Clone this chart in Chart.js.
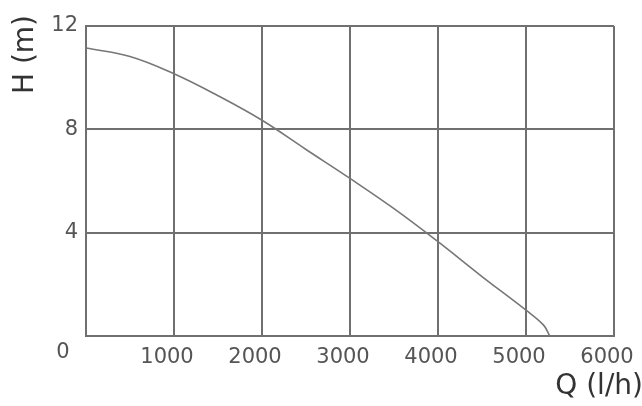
<!DOCTYPE html>
<html>
<head>
<meta charset="utf-8">
<script src="https://cdn.jsdelivr.net/npm/chart.js@4"></script>
<style>
  html, body { margin: 0; padding: 0; background: #fff; }
  #wrap { width: 642px; height: 406px; }
</style>
</head>
<body>
<div id="wrap"><canvas id="pump-curve" width="642" height="406"></canvas></div>
<script>
// flow (l/h) vs head (m)
const flowQ = [0, 500, 1000, 1500, 2000, 2500, 3000, 3500, 4000, 4500, 5000, 5200, 5270]
const headH = [11.15, 10.82, 10.15, 9.3, 8.35, 7.22, 6.1, 4.93, 3.65, 2.3, 1.0, 0.42, 0]
const xTicks = [0, 1000, 2000, 3000, 4000, 5000, 6000]
const yTicks = [0, 4, 8, 12]
const xTitle = 'Q (l/h)'
const yTitle = 'H (m)'

const gridColor = '#707070'
const textColor = '#555'
const fontFamily = "'DejaVu Sans', sans-serif"

// origin "0" and both axis titles sit outside the normal tick slots
const cornerText = {
  id: 'cornerText',
  afterDraw(chart) {
    const { ctx, chartArea } = chart
    ctx.save()
    ctx.fillStyle = textColor
    ctx.font = '21px ' + fontFamily
    ctx.textAlign = 'center'
    ctx.textBaseline = 'middle'
    ctx.fillText('0', chartArea.left - 23, chartArea.bottom + 17)

    ctx.fillStyle = '#333'
    ctx.font = '28px ' + fontFamily
    ctx.textAlign = 'right'
    ctx.textBaseline = 'alphabetic'
    ctx.fillText(xTitle, 643, chartArea.bottom + 58)

    ctx.translate(33, 15)
    ctx.rotate(-Math.PI / 2)
    ctx.textAlign = 'right'
    ctx.textBaseline = 'alphabetic'
    ctx.fillText(yTitle, 0, 0)
    ctx.restore()
  }
}

const points = flowQ.map((q, i) => ({ x: q, y: headH[i] }))

new Chart(document.getElementById('pump-curve'), {
  type: 'line',
  data: { datasets: [{ data: points, borderColor: '#777', borderWidth: 1.6, pointRadius: 0, fill: false, tension: 0.4 }] },
  options: {
    responsive: false, animation: false,
    layout: { padding: { top: 26, right: 28, left: 0, bottom: 0 } },
    plugins: { legend: { display: false }, tooltip: { enabled: false } },
    scales: {
      x: {
        type: 'linear', min: 0, max: 6000,
        afterBuildTicks: s => { s.ticks = xTicks.map(v => ({ value: v })) },
        afterFit: s => { s.height = 70; s.paddingLeft = 0; s.paddingRight = 0 },
        grid: { color: gridColor, lineWidth: 2, drawTicks: false },
        border: { color: gridColor, width: 2 },
        ticks: { color: textColor, font: { size: 21, family: fontFamily }, padding: 9, labelOffset: -7, maxRotation: 0,
          callback: v => v === 0 ? '' : String(v) }
      },
      y: {
        min: 0, max: 12,
        afterBuildTicks: s => { s.ticks = yTicks.map(v => ({ value: v })) },
        afterFit: s => { s.width = 86; s.paddingTop = 0; s.paddingBottom = 0 },
        grid: { color: gridColor, lineWidth: 2, drawTicks: false },
        border: { color: gridColor, width: 2 },
        ticks: { color: textColor, font: { size: 21, family: fontFamily }, padding: 8,
          callback: v => v === 0 ? '' : String(v) }
      }
    }
  },
  plugins: [cornerText]
})
</script>
</body>
</html>
